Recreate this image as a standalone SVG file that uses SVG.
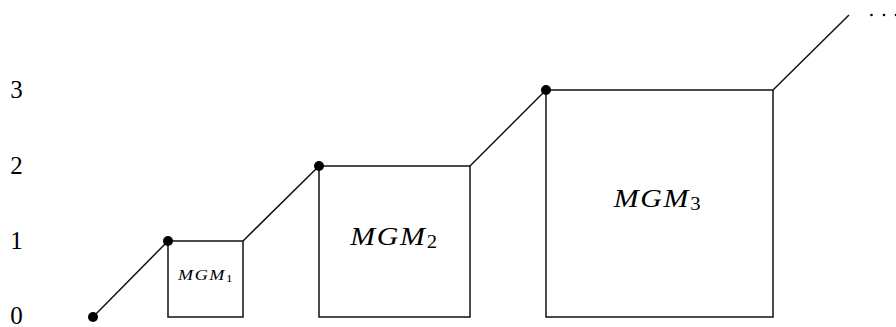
<svg xmlns="http://www.w3.org/2000/svg" width="896" height="327" viewBox="0 0 896 327">
<style>
.ax{font-family:"Liberation Serif","DejaVu Serif",serif;font-size:25px;fill:#000;text-anchor:middle}
.lbl{font-family:"Liberation Serif","DejaVu Serif",serif;font-style:italic;fill:#000;text-anchor:middle}
.box{fill:none;stroke:#111;stroke-width:1.5}
.seg{fill:none;stroke:#111;stroke-width:1.5}
.dot{fill:#000}
</style>
<rect width="896" height="327" fill="#fff"/>
<g id="axis">
<text class="ax" x="16.5" y="98">3</text>
<text class="ax" x="16.5" y="173.5">2</text>
<text class="ax" x="16.5" y="249">1</text>
<text class="ax" x="16.5" y="323.5">0</text>
</g>
<g id="connectors">
<line class="seg" x1="93" y1="317" x2="168" y2="241"/>
<line class="seg" x1="243" y1="241" x2="319" y2="166"/>
<line class="seg" x1="470" y1="166" x2="546" y2="90"/>
<line class="seg" x1="773" y1="90" x2="849" y2="15"/>
</g>
<g id="mgm1">
<rect class="box" x="168" y="241" width="75" height="76"/>
<text class="lbl" transform="translate(206,280) scale(1.3,1)" font-size="14" letter-spacing="1.2">MGM<tspan font-style="normal" font-size="10" dy="2">1</tspan></text>
</g>
<g id="mgm2">
<rect class="box" x="319" y="166" width="151" height="151"/>
<text class="lbl" transform="translate(394.5,245) scale(1.15,1)" font-size="26" letter-spacing="1.5">MGM<tspan font-style="normal" font-size="18" dy="3">2</tspan></text>
</g>
<g id="mgm3">
<rect class="box" x="546" y="90" width="227" height="227"/>
<text class="lbl" transform="translate(658,207) scale(1.15,1)" font-size="26" letter-spacing="1.5">MGM<tspan font-style="normal" font-size="18" dy="3">3</tspan></text>
</g>
<g id="dots">
<circle class="dot" cx="93" cy="317" r="5"/>
<circle class="dot" cx="168" cy="241" r="5"/>
<circle class="dot" cx="319" cy="166" r="5"/>
<circle class="dot" cx="546" cy="90" r="5"/>
</g>
<g id="ellipsis">
<circle cx="871.5" cy="15" r="1.3" fill="#000"/>
<circle cx="884" cy="15" r="1.3" fill="#000"/>
<circle cx="896" cy="15" r="1.3" fill="#000"/>
</g>
</svg>
